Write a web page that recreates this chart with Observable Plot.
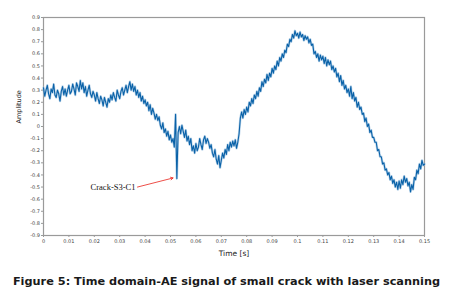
<!DOCTYPE html>
<html>
<head>
<meta charset="utf-8">
<script src="https://cdn.jsdelivr.net/npm/d3@7"></script>
<script src="https://cdn.jsdelivr.net/npm/@observablehq/plot@0.6"></script>
<style>
  html, body { margin: 0; padding: 0; background: #fff; }
  #chart svg { display: block; }
  #caption { margin-top: 10px; text-align: center; font-family: "DejaVu Sans", sans-serif; font-weight: bold; font-size: 11.3px; line-height: 14px; color: #1a1a1a; white-space: nowrap; }
</style>
</head>
<body>
<div id="chart"></div>
<div id="caption">Figure 5: Time domain-AE signal of small crack with laser scanning</div>
<script>
// Sampling of the time axis (s)
const timeStart = 0;
const timeStep = 0.0005;

// Amplitude samples (one every 0.0005 s, 0 .. 0.15 s)
const amplitude = [
  0.32, 0.25, 0.30, 0.34, 0.27, 0.23, 0.31, 0.28, 0.35, 0.26,
  0.24, 0.30, 0.27, 0.21, 0.29, 0.33, 0.26, 0.31, 0.25, 0.30,
  0.34, 0.27, 0.29, 0.35, 0.31, 0.26, 0.36, 0.33, 0.29, 0.38,
  0.31, 0.36, 0.28, 0.33, 0.25, 0.30, 0.34, 0.27, 0.24, 0.29,
  0.26, 0.21, 0.28, 0.23, 0.19, 0.25, 0.22, 0.17, 0.24, 0.20,
  0.16, 0.23, 0.20, 0.26, 0.22, 0.28, 0.24, 0.21, 0.30, 0.26,
  0.23, 0.29, 0.32, 0.26, 0.30, 0.34, 0.28, 0.33, 0.37, 0.30,
  0.35, 0.29, 0.33, 0.26, 0.30, 0.24, 0.28, 0.21, 0.25, 0.19,
  0.22, 0.17, 0.20, 0.13, 0.18, 0.10, 0.15, 0.11, 0.06, 0.10,
  0.05, 0.08, 0.01, -0.02, 0.03, -0.05, -0.02, -0.08, -0.04, -0.11,
  -0.07, -0.13, -0.10, -0.17, 0.10, -0.43, -0.05, 0.00, -0.06, 0.01,
  -0.04, -0.09, -0.03, -0.12, -0.08, -0.15, -0.10, -0.20, -0.16, -0.22,
  -0.14, -0.20, -0.17, -0.10, -0.15, -0.19, -0.11, -0.08, -0.14, -0.10,
  -0.13, -0.18, -0.15, -0.22, -0.25, -0.19, -0.27, -0.31, -0.24, -0.34,
  -0.28, -0.22, -0.26, -0.19, -0.23, -0.15, -0.20, -0.13, -0.17, -0.12,
  -0.16, -0.11, -0.18, -0.13, -0.06, 0.07, 0.12, 0.07, 0.14, 0.10,
  0.16, 0.12, 0.20, 0.17, 0.23, 0.19, 0.26, 0.23, 0.29, 0.25,
  0.32, 0.29, 0.37, 0.33, 0.39, 0.36, 0.43, 0.38, 0.44, 0.41,
  0.48, 0.44, 0.50, 0.47, 0.54, 0.50, 0.57, 0.54, 0.60, 0.57,
  0.63, 0.61, 0.68, 0.66, 0.72, 0.70, 0.76, 0.73, 0.79, 0.75,
  0.77, 0.73, 0.78, 0.74, 0.76, 0.71, 0.75, 0.72, 0.74, 0.69,
  0.72, 0.67, 0.68, 0.60, 0.62, 0.57, 0.60, 0.54, 0.59, 0.55,
  0.58, 0.52, 0.57, 0.50, 0.55, 0.51, 0.54, 0.47, 0.50, 0.45,
  0.48, 0.41, 0.44, 0.37, 0.42, 0.34, 0.38, 0.31, 0.34, 0.28,
  0.31, 0.25, 0.33, 0.23, 0.28, 0.21, 0.24, 0.16, 0.20, 0.14,
  0.16, 0.10, 0.11, 0.04, 0.07, 0.00, 0.02, -0.05, -0.03, -0.09,
  -0.09, -0.13, -0.13, -0.20, -0.19, -0.25, -0.25, -0.31, -0.30, -0.36,
  -0.35, -0.40, -0.38, -0.44, -0.41, -0.47, -0.44, -0.50, -0.46, -0.52,
  -0.45, -0.51, -0.44, -0.48, -0.41, -0.46, -0.43, -0.49, -0.46, -0.54,
  -0.48, -0.52, -0.42, -0.44, -0.36, -0.39, -0.31, -0.35, -0.28, -0.32,
  -0.31
];

// Tick values
const xTicks = [0, 0.01, 0.02, 0.03, 0.04, 0.05, 0.06, 0.07, 0.08, 0.09, 0.10, 0.11, 0.12, 0.13, 0.14, 0.15];
const yTicks = [-0.9, -0.8, -0.7, -0.6, -0.5, -0.4, -0.3, -0.2, -0.1, 0, 0.1, 0.2, 0.3, 0.4, 0.5, 0.6, 0.7, 0.8, 0.9];

// Annotation
const annotLabel = ["Crack-S3-C1"];
const annotTextPos = [{t: 0.0362, v: -0.50}];
const annotArrow = [{t1: 0.0370, v1: -0.50, t2: 0.0510, v2: -0.425}];

const signal = amplitude.map((v, i) => ({t: timeStart + i * timeStep, v}));

const fmtY = d => d === 0 ? "0" : String(+d.toFixed(1));
const fmtX = d => d === 0 ? "0" : String(+d.toFixed(2));

const axisColor = "#9a9a9a";

const chart = Plot.plot({
  width: 453,
  height: 265,
  marginLeft: 43,
  marginRight: 29,
  marginTop: 17,
  marginBottom: 30,
  style: {fontFamily: "DejaVu Sans, sans-serif", background: "#fff"},
  x: {domain: [0, 0.15], label: null},
  y: {domain: [-0.9, 0.9], label: null},
  marks: [
    Plot.frame({stroke: axisColor, strokeWidth: 1.2}),
    Plot.axisX(xTicks, {tickSize: 2, tickPadding: 2, stroke: axisColor, fill: "#444", fontSize: 5, tickFormat: fmtX, label: null}),
    Plot.axisY(yTicks, {tickSize: 2, tickPadding: 1.5, stroke: axisColor, fill: "#444", fontSize: 5, tickFormat: fmtY, label: null}),
    Plot.line(signal, {x: "t", y: "v", stroke: "#8fb9dc", strokeWidth: 2.4, strokeOpacity: 0.6}),
    Plot.line(signal, {x: "t", y: "v", stroke: "#0a62a8", strokeWidth: 1.1}),
    Plot.arrow(annotArrow, {x1: "t1", y1: "v1", x2: "t2", y2: "v2", stroke: "#e8221b", strokeWidth: 0.8, headLength: 5, bend: false}),
    Plot.text(annotLabel, {x: () => annotTextPos[0].t, y: () => annotTextPos[0].v, text: d => d, textAnchor: "end", fontFamily: "Liberation Serif, serif", fontSize: 8.5, fill: "#111"}),
    Plot.text(["Amplitude"], {frameAnchor: "left", text: d => d, rotate: -90, dx: -25, dy: -3, fontSize: 6.5, fill: "#222"}),
    Plot.text(["Time [s]"], {frameAnchor: "bottom", text: d => d, dy: 20, fontSize: 7.5, fill: "#222"})
  ]
});
document.getElementById("chart").appendChild(chart);
</script>
</body>
</html>
